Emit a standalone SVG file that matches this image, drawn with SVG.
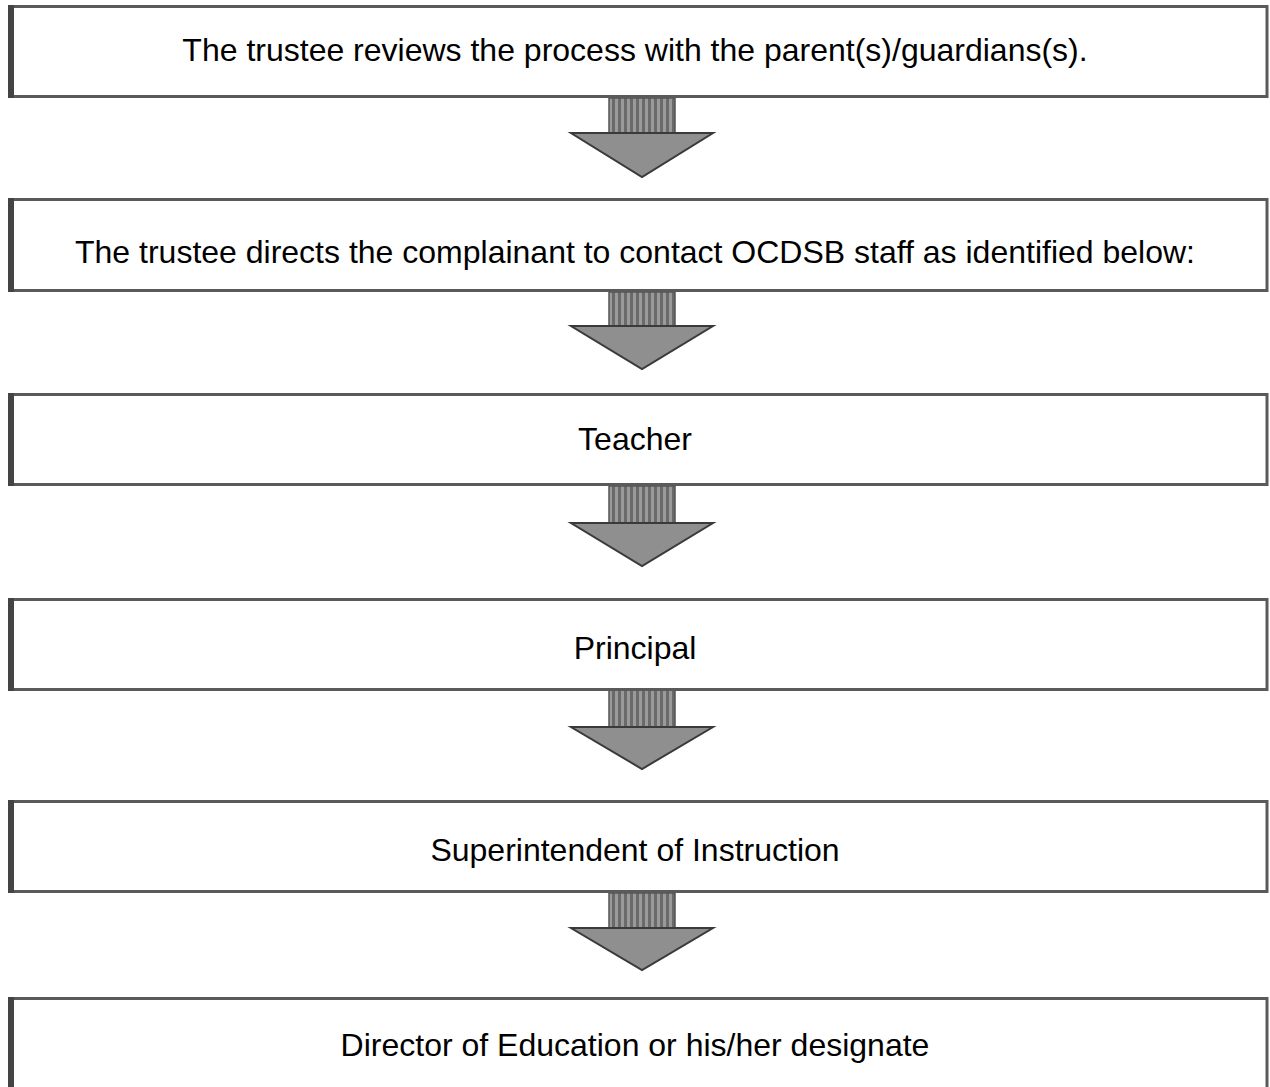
<svg xmlns="http://www.w3.org/2000/svg" width="1270" height="1087" viewBox="0 0 1270 1087">
<defs>
<style>
.box{fill:#fff;stroke:#5a5a5a;stroke-width:3}
.lb{fill:#444}
.t{font-family:"Liberation Sans",Arial,sans-serif;font-size:32px;fill:#000;text-anchor:middle}
.shaft{fill:url(#stripes);stroke:#555;stroke-width:1.5}
.head{fill:#8f8f8f;stroke:#3a3a3a;stroke-width:2}
</style>
<pattern id="stripes" width="6" height="4" patternUnits="userSpaceOnUse">
<rect width="6" height="4" fill="#9a9a9a"/>
<rect width="3" height="4" fill="#6a6a6a"/>
</pattern>
</defs>
<rect width="1270" height="1087" fill="#fff"/>
<g id="connectors">
<g id="a1"><rect class="shaft" x="609" y="98" width="66" height="36"/><polygon class="head" points="571,133 713,133 642,177"/></g>
<g id="a2"><rect class="shaft" x="609" y="292" width="66" height="34"/><polygon class="head" points="571,326 713,326 642,369"/></g>
<g id="a3"><rect class="shaft" x="609" y="486" width="66" height="38"/><polygon class="head" points="571,523 713,523 642,566"/></g>
<g id="a4"><rect class="shaft" x="609" y="690" width="66" height="38"/><polygon class="head" points="571,727 713,727 642,769"/></g>
<g id="a5"><rect class="shaft" x="609" y="893" width="66" height="36"/><polygon class="head" points="571,928 713,928 642,970"/></g>
</g>
<g id="n1"><rect class="box" x="10" y="6.5" width="1257" height="90"/><rect class="lb" x="8" y="5" width="6" height="93"/><text class="t" x="635" y="61">The trustee reviews the process with the parent(s)/guardians(s).</text></g>
<g id="n2"><rect class="box" x="10" y="199.5" width="1257" height="91"/><rect class="lb" x="8" y="198" width="6" height="94"/><text class="t" x="635" y="263">The trustee directs the complainant to contact OCDSB staff as identified below:</text></g>
<g id="n3"><rect class="box" x="10" y="394.5" width="1257" height="90"/><rect class="lb" x="8" y="393" width="6" height="93"/><text class="t" x="635" y="450">Teacher</text></g>
<g id="n4"><rect class="box" x="10" y="599.5" width="1257" height="90"/><rect class="lb" x="8" y="598" width="6" height="93"/><text class="t" x="635" y="659">Principal</text></g>
<g id="n5"><rect class="box" x="10" y="801.5" width="1257" height="90"/><rect class="lb" x="8" y="800" width="6" height="93"/><text class="t" x="635" y="861">Superintendent of Instruction</text></g>
<g id="n6"><rect class="box" x="10" y="998.5" width="1257" height="95"/><rect class="lb" x="8" y="997" width="6" height="95"/><text class="t" x="635" y="1056">Director of Education or his/her designate</text></g>
</svg>
